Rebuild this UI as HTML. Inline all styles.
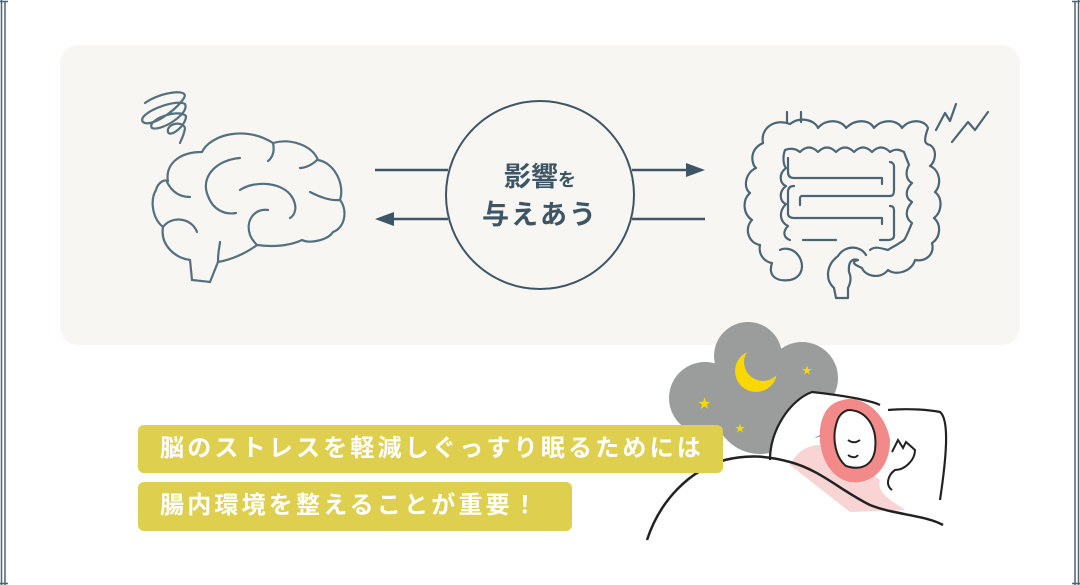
<!DOCTYPE html>
<html><head><meta charset="utf-8"><style>
html,body{margin:0;padding:0;background:#fff;}
body{width:1080px;height:585px;position:relative;overflow:hidden;font-family:"Liberation Sans","Noto Sans CJK JP",sans-serif;}
.panel{position:absolute;left:60px;top:45px;width:960px;height:300px;background:#f7f6f2;border-radius:18px;}
.bn{position:absolute;left:138px;background:#dfcf4e;border-radius:6px;color:#fff;font-size:24px;font-weight:bold;letter-spacing:3.2px;line-height:48px;padding-left:22px;box-sizing:border-box;white-space:nowrap;}
svg{position:absolute;left:0;top:0;}
</style></head><body>
<div class="panel"></div>
<svg width="1080" height="585" viewBox="0 0 1080 585">
<g stroke="#4b6575" fill="none" stroke-width="1.5">
<path d="M1.5 0V585M5 2V585M1075 2V585M1078.5 0V585"/>
<path d="M0 1.5H8M1072 1.5H1080M1072 583.5H1080M0 583.5H8"/>
</g>
<g stroke="#3e5565" stroke-width="2.5" fill="#3e5565">
<line x1="375" y1="170" x2="448" y2="170"/>
<line x1="632" y1="170" x2="688" y2="170"/>
<polygon points="705,170 686,163 686,177" stroke="none"/>
<line x1="632" y1="219" x2="705" y2="219"/>
<line x1="392" y1="219" x2="448" y2="219"/>
<polygon points="375,219 394,212 394,226" stroke="none"/>
</g>
<circle cx="540" cy="195" r="94" fill="#f7f6f2" stroke="#3e5565" stroke-width="2"/>
<text x="540" y="186" text-anchor="middle" font-size="27" font-weight="bold" fill="#3e5565" font-family="Liberation Sans,Noto Sans CJK JP,sans-serif">影響<tspan font-size="18">を</tspan></text>
<text x="540" y="224" text-anchor="middle" font-size="27" font-weight="bold" fill="#3e5565" letter-spacing="2" font-family="Liberation Sans,Noto Sans CJK JP,sans-serif">与えあう</text>
<g stroke="#54707e" stroke-width="2.2" fill="none" stroke-linecap="round">
<path d="M145 103 C160 92 190 88 184 98 C175 112 150 128 143 122 C136 114 175 98 185 104 C190 114 160 132 152 128 C146 120 178 108 186 116 C186 126 170 138 168 132 C166 124 182 120 185 128 C184 136 180 142 180 143"/>
<path d="M202 152 C210 135 245 125 273 143 C290 138 312 145 318 160 C335 163 345 185 340 200 C348 210 345 228 333 232 C328 240 310 244 302 240 C285 248 265 246 257 245 C245 254 230 260 218 262 L210 282 L192 280 L190 260 C175 258 160 245 163 227 C152 218 150 200 156 190 C158 182 166 178 168 182 C165 165 178 152 202 152"/>
<path d="M167 182 C172 192 180 197 190 197"/>
<path d="M163 227 C172 215 192 218 197 232"/>
<path d="M218 262 C218 250 220 245 220 242"/>
<path d="M240 158 C215 160 200 178 208 196 C213 210 225 215 236 213"/>
<path d="M273 143 C275 152 272 158 268 161"/>
<path d="M317 160 C312 165 305 168 300 168"/>
<path d="M340 200 C330 201 320 197 310 192"/>
<path d="M240 190 C255 180 283 182 292 197 C298 207 295 215 290 218"/>
<path d="M268 210 C255 208 245 220 250 235 C252 240 256 244 257 245"/>
</g>
<g stroke="#4b6575" stroke-width="2.2" fill="none" stroke-linecap="round" stroke-linejoin="round">
<path d="M787 112V122M801 112V122"/>
<path d="M936 130 L945 113 L950 121 L956 104 M952 142 L968 122 L975 130 L988 112"/>
<path d="M763 143 C760 128 775 118 790 124 C800 116 815 120 818 128 C826 118 842 120 846 128 C856 118 870 120 874 128 C882 118 898 120 902 128 C910 118 925 120 928 128 C923 142 925 144 930 145 C938 150 935 162 930 166 C940 170 942 185 935 192 C943 198 942 212 934 218 C942 225 940 238 932 243 C935 255 925 262 915 260 C912 272 895 276 888 270 C880 280 865 276 862 268 C855 265 850 262 858 260 C852 258 848 262 849 272 C852 278 850 284 848 288 L848 298 L836 298 L834 288 C825 280 826 265 838 256 C845 245 860 245 866 255"/>
<path d="M763 143 C748 150 752 165 756 168 C745 173 743 188 750 193 C742 200 743 214 752 220 C744 228 748 243 760 245 C758 255 765 262 772 263 C768 275 775 282 790 280 C805 277 805 260 795 252 C790 248 783 248 780 250"/>
<path d="M785 150 C790 148 795 148 800 152 C806 146 812 146 818 152 C824 146 830 146 836 152 C842 146 848 146 854 152 C860 146 866 146 872 152 C878 146 884 146 890 152 C896 148 900 150 904 152 C906 158 908 162 909 165 C905 172 906 180 912 183 C905 190 905 198 912 202 C905 210 905 218 912 223 C908 232 906 238 904 240 C896 246 890 248 888 250 C880 248 875 246 870 250"/>
<path d="M785 150 C782 158 784 166 786 168 C778 174 780 184 786 186 C778 192 780 202 786 204 C778 212 780 222 788 226 C782 232 784 238 790 240"/>
<path d="M788 158V172C788 176 790 178 794 178H882V184"/>
<path d="M794 186C790 186 788 188 788 192V214C788 216 790 218 794 218H882V224"/>
<path d="M800 205V198C800 197 801 196 802 196H890C893 196 894 194 894 190V166C894 164 892 162 890 162"/>
<path d="M890 206C893 206 894 208 894 210V236C894 238 892 240 888 240H880"/>
<path d="M803 240H836"/>
</g>
<!-- cloud -->
<g fill="#9b9c9c">
<circle cx="748" cy="356" r="34"/><circle cx="802" cy="378" r="36"/><circle cx="705" cy="398" r="36"/><circle cx="760" cy="408" r="46"/><circle cx="812" cy="412" r="26"/>
</g>
<circle cx="756" cy="371" r="21" fill="#f8d800"/>
<circle cx="763" cy="362" r="19" fill="#9b9c9c"/>
<g fill="#f8d800">
<text x="698" y="408" font-size="13">★</text><text x="802" y="374" font-size="10">★</text><text x="735" y="432" font-size="10">★</text>
</g>
<path d="M770 460 C770 430 790 400 812 392 C840 395 870 400 880 405 M888 410 C910 408 930 410 940 412 C950 420 946 460 940 500" fill="#fff" stroke="#222" stroke-width="2.2"/>
<path d="M790 465 C800 445 820 440 835 450 L880 480 C875 495 900 505 905 510 L850 512 Z" fill="#f7c9c9" opacity="0.8"/>
<path d="M843 400 C860 395 885 410 890 440 C890 470 870 485 850 482 C830 478 818 455 820 430 C822 410 832 402 843 400Z" fill="#f28a8a"/>
<path d="M848 410 C865 410 878 425 875 450 C872 468 858 470 846 466 C836 458 832 440 836 425 C838 416 842 412 848 410Z" fill="#fff" stroke="#222" stroke-width="2"/>
<path d="M848 440 C852 443 856 443 860 440 M848 455 C852 458 856 458 858 455" stroke="#222" stroke-width="2" fill="none"/>
<path d="M892 452 L898 440 L903 448 L906 442 L915 450 C915 460 905 470 895 470 C888 475 885 485 892 490" fill="#fff" stroke="#222" stroke-width="2"/>
<path d="M647 540 C660 500 690 470 725 460 C745 455 765 455 790 462 C820 470 840 490 870 505 C895 515 925 515 943 525" fill="none" stroke="#222" stroke-width="2.5"/>
</svg>
<div class="bn" style="top:425px;width:585px;height:48px;">脳のストレスを軽減しぐっすり眠るためには</div>
<div class="bn" style="top:482px;width:434px;height:49px;">腸内環境を整えることが重要！</div>
</body></html>
